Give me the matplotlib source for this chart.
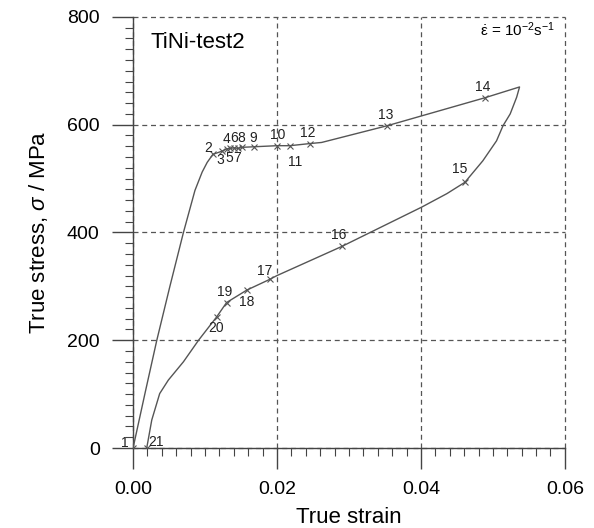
import matplotlib
matplotlib.use('Agg')
import matplotlib.pyplot as plt
from matplotlib.ticker import MultipleLocator

plt.rcParams['font.family'] = ['Liberation Sans', 'DejaVu Sans']
plt.rcParams['mathtext.fontset'] = 'custom'
plt.rcParams['mathtext.rm'] = 'Liberation Sans'
plt.rcParams['mathtext.it'] = 'Liberation Sans:italic'

# stress-strain path (loading then unloading)
curve_strain = [0.0, 0.0017, 0.0033, 0.0051, 0.0070, 0.0086, 0.0096, 0.0103,
                0.0111, 0.0124, 0.0130, 0.0135, 0.0140, 0.0146, 0.0152, 0.0168,
                0.0200, 0.0218, 0.0246, 0.0262, 0.0353, 0.0489, 0.0537, 0.0533,
                0.0524, 0.0514, 0.0505, 0.0486, 0.0461, 0.0436, 0.0401, 0.0290,
                0.0200, 0.0190, 0.0158, 0.0130, 0.0116, 0.0091, 0.0070, 0.0049,
                0.0037, 0.0026, 0.0019]
curve_stress = [0, 104, 200, 299, 400, 478, 512, 530,
                545, 551, 555, 556, 557, 556, 558, 559,
                561, 561, 565, 567, 598, 650, 670, 651,
                620, 598, 570, 533, 493, 472, 447, 374,
                320, 313, 293, 270, 243, 200, 160, 126,
                101, 52, 0]

# numbered measuring points
pt_labels = ['1', '2', '3', '4', '5', '6', '7', '8', '9', '10', '11', '12',
             '13', '14', '15', '16', '17', '18', '19', '20', '21']
pt_strain = [0.0, 0.0111, 0.0124, 0.0130, 0.0135, 0.0140, 0.0146, 0.0152,
             0.0168, 0.0200, 0.0218, 0.0246, 0.0353, 0.0489, 0.0461, 0.0290,
             0.0190, 0.0158, 0.0130, 0.0116, 0.0019]
pt_stress = [0, 545, 551, 555, 556, 557, 556, 558, 559, 561, 561, 565,
             598, 650, 493, 374, 313, 293, 270, 243, 0]
# label offsets in pixels
pt_offset = [(-8, 5), (-5, 6), (-2, -9), (0, 10), (-1, -10), (0, 10), (-1, -10),
             (-1, 9), (-1, 9), (1, 11), (5, -16), (-2, 11), (-1, 11), (-2, 11),
             (-5, 13), (-3, 11), (-5, 8), (0, -12), (-2, 11), (0, -11), (9, 6)]

fig = plt.figure(figsize=(5.94, 5.28), dpi=100)
ax = fig.add_axes([0.224, 0.1515, 0.727, 0.8165])

ax.plot(curve_strain, curve_stress, color='#555555', lw=1.0, zorder=3)
ax.plot(pt_strain, pt_stress, ls='none', marker='x', ms=4, mew=0.8,
        color='#555555', zorder=4)
for lab, xs, ys, off in zip(pt_labels, pt_strain, pt_stress, pt_offset):
    ax.annotate(lab, (xs, ys), xytext=off, textcoords='offset pixels',
                ha='center', va='center', fontsize=10, color='#222222', zorder=5)

ax.set_xlim(0, 0.06)
ax.set_ylim(0, 800)
ax.xaxis.set_major_locator(MultipleLocator(0.02))
ax.xaxis.set_minor_locator(MultipleLocator(0.002))
ax.yaxis.set_major_locator(MultipleLocator(200))
ax.yaxis.set_minor_locator(MultipleLocator(20))
ax.set_xticks([0, 0.02, 0.04, 0.06])
ax.set_xticklabels(['0.00', '0.02', '0.04', '0.06'])

ax.tick_params(which='major', direction='out', length=15, width=1,
               color='#444444', labelsize=14, pad=9)
ax.tick_params(which='minor', direction='out', length=6, width=0.8,
               color='#444444')

for s in ['top', 'right']:
    ax.spines[s].set_visible(False)
for s in ['left', 'bottom']:
    ax.spines[s].set_color('#444444')
    ax.spines[s].set_linewidth(1.0)

ax.grid(True, which='major', ls=(0, (4, 3)), color='#555555', lw=0.9)
ax.set_axisbelow(True)
for gl in ax.get_xgridlines() + ax.get_ygridlines():
    gl.set_clip_on(False)
for sp in ax.spines.values():
    sp.set_zorder(2.5)

ax.set_xlabel('True strain', fontsize=16, labelpad=6)
ax.set_ylabel(r'True stress, $\sigma$ / MPa', fontsize=16, labelpad=12)

ax.text(0.0024, 752, 'TiNi-test2', fontsize=16, va='center', ha='left')
ax.text(0.0587, 776, r'$\mathrm{\dot{\varepsilon}}$ = 10$^{-2}$s$^{-1}$',
        fontsize=11, va='center', ha='right')

fig.savefig('out.png', dpi=100)
